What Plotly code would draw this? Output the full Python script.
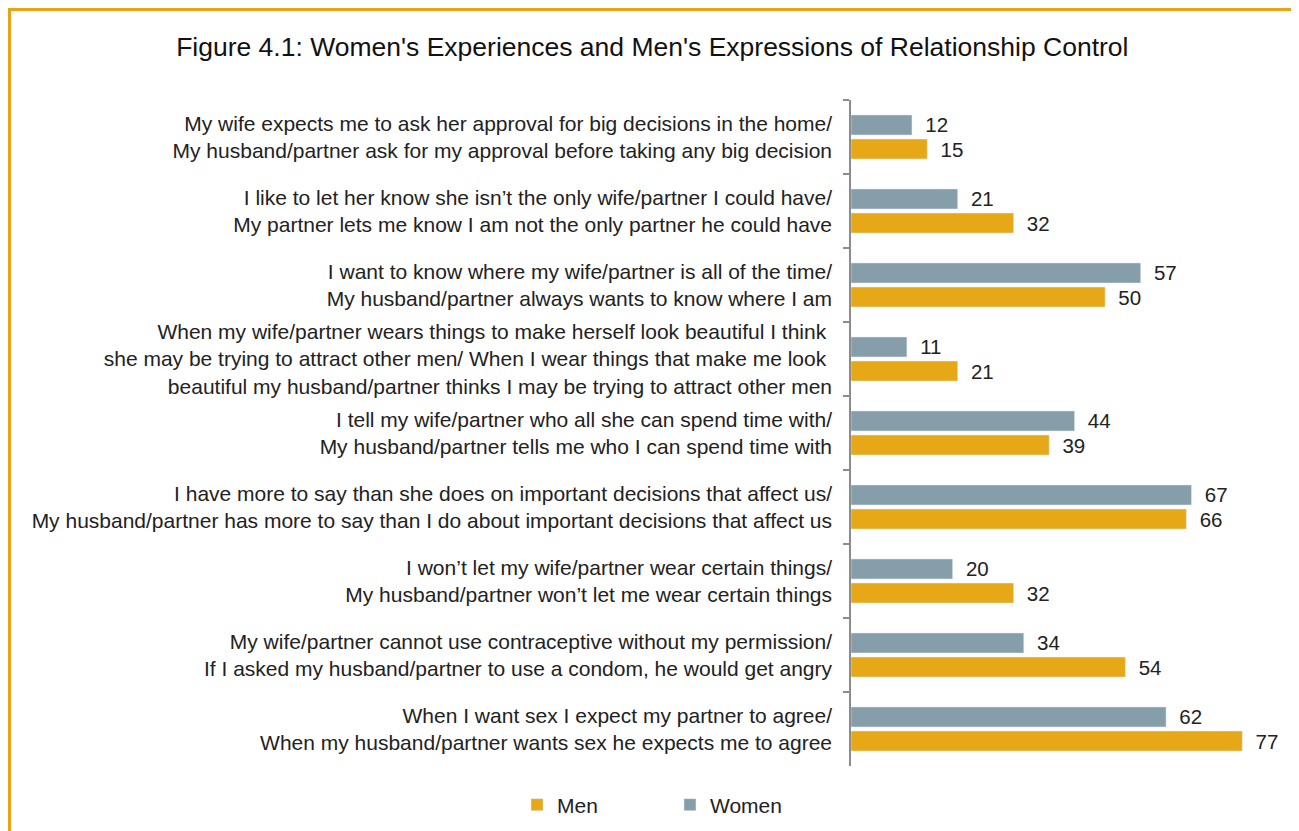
import plotly.graph_objects as go

title = "Figure 4.1: Women's Experiences and Men's Expressions of Relationship Control"

categories = [
    "My wife expects me to ask her approval for big decisions in the home/<br>My husband/partner ask for my approval before taking any big decision",
    "I like to let her know she isn\u2019t the only wife/partner I could have/<br>My partner lets me know I am not the only partner he could have",
    "I want to know where my wife/partner is all of the time/<br>My husband/partner always wants to know where I am",
    "When my wife/partner wears things to make herself look beautiful I think <br>she may be trying to attract other men/ When I wear things that make me look <br>beautiful my husband/partner thinks I may be trying to attract other men",
    "I tell my wife/partner who all she can spend time with/<br>My husband/partner tells me who I can spend time with",
    "I have more to say than she does on important decisions that affect us/<br>My husband/partner has more to say than I do about important decisions that affect us",
    "I won\u2019t let my wife/partner wear certain things/<br>My husband/partner won\u2019t let me wear certain things",
    "My wife/partner cannot use contraceptive without my permission/<br>If I asked my husband/partner to use a condom, he would get angry",
    "When I want sex I expect my partner to agree/<br>When my husband/partner wants sex he expects me to agree",
]
women = [12, 21, 57, 11, 44, 67, 20, 34, 62]
men = [15, 32, 50, 21, 39, 66, 32, 54, 77]

WOMEN_COLOR = "#869EAA"
MEN_COLOR = "#E6A817"
FONT = "Liberation Sans"

L, T, B, R = 843, 92, 73, 21
PW = 1299 - L - R
PH = 831 - T - B

fig = go.Figure()
fig.add_trace(go.Bar(
    y=categories, x=women, orientation="h", name="Women",
    marker_color=WOMEN_COLOR, legendrank=2,
    text=women, texttemplate="\u2002%{x}", textposition="outside",
    constraintext="none",
    textfont=dict(size=20.5, color="#222222", family=FONT), cliponaxis=False,
))
fig.add_trace(go.Bar(
    y=categories, x=men, orientation="h", name="Men",
    marker_color=MEN_COLOR, legendrank=1,
    text=men, texttemplate="\u2002%{x}", textposition="outside",
    constraintext="none",
    textfont=dict(size=20.5, color="#222222", family=FONT), cliponaxis=False,
))

fig.update_layout(
    width=1299, height=831,
    paper_bgcolor="white", plot_bgcolor="white",
    barmode="group", bargap=0.35, bargroupgap=0.17,
    margin=dict(l=L, r=R, t=T, b=B),
    font=dict(family=FONT, color="#222222"),
    title=dict(text=title, x=0.496, xanchor="center", y=0.954, yanchor="middle",
               font=dict(size=26.5, color="#111111", family=FONT)),
    showlegend=True,
    legend=dict(orientation="h", x=(509 - L) / PW, xanchor="left",
                y=-(797 - (831 - B)) / PH, yanchor="middle",
                font=dict(size=21, color="#222222", family=FONT),
                entrywidth=108, traceorder="normal"),
    shapes=[dict(type="rect", xref="paper", yref="paper",
                 x0=(1.5 - L) / PW, x1=(1320 - L) / PW,
                 y0=-(850 - (831 - B)) / PH, y1=1 + (T - 1.5) / PH,
                 line=dict(color="#E8A317", width=3), fillcolor="rgba(0,0,0,0)",
                 layer="below")],
)
fig.update_xaxes(range=[0, 85.6], visible=False, showgrid=False, zeroline=False)
fig.update_yaxes(autorange="reversed", showline=True, linecolor="#8C8C8C", linewidth=1.5,
                 ticks="outside", tickson="boundaries", ticklen=6, tickcolor="#8C8C8C",
                 tickwidth=1.5, showgrid=False, ticklabelstandoff=13,
                 tickfont=dict(size=21, color="#222222", family=FONT))

fig.write_html("out.html")
